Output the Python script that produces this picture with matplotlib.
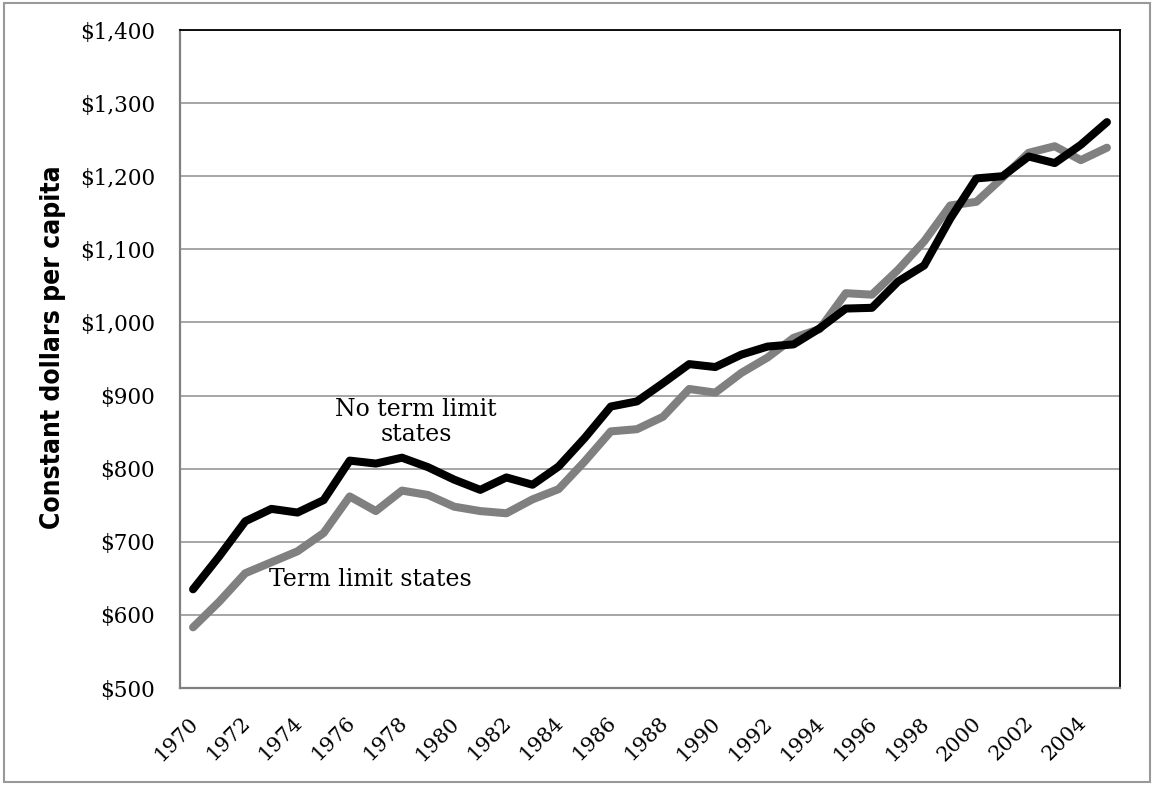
import matplotlib
matplotlib.use("Agg")
import matplotlib.pyplot as plt
from matplotlib.patches import Rectangle
from matplotlib.transforms import ScaledTranslation

# data (constant dollars per capita)
years = list(range(1970, 2006))
no_term_limit = [635, 680, 728, 745, 740, 757, 811, 807, 815, 802, 785, 771,
                 788, 778, 803, 842, 885, 892, 917, 943, 939, 956, 967, 970,
                 992, 1019, 1020, 1056, 1078, 1142, 1197, 1200, 1227, 1218,
                 1243, 1274]
term_limit = [583, 618, 657, 672, 687, 712, 762, 742, 770, 764, 748, 742,
              739, 758, 772, 810, 851, 854, 871, 909, 904, 931, 952, 979,
              991, 1040, 1038, 1072, 1111, 1160, 1165, 1198, 1232, 1241,
              1222, 1239]
y_ticks = list(range(500, 1401, 100))

plt.rcParams['font.family'] = ['DejaVu Serif']

fig = plt.figure(figsize=(11.54, 7.85), dpi=100)
ax = fig.add_axes([180 / 1154, 1 - 688 / 785, 940 / 1154, 658 / 785])

x = list(range(len(years)))
ax.plot(x, term_limit, color='#808080', lw=5.8, solid_capstyle='round',
        solid_joinstyle='round', zorder=3)
ax.plot(x, no_term_limit, color='black', lw=5.8, solid_capstyle='round',
        solid_joinstyle='round', zorder=4)

ax.set_xlim(-0.5, len(years) - 0.5)
ax.set_ylim(500, 1400)
ax.set_yticks(y_ticks)
ax.set_yticklabels(['${:,}'.format(v) for v in y_ticks], fontsize=15.5)
ax.yaxis.grid(True, color='#a6a6a6', lw=1.4)
ax.set_axisbelow(True)

ax.set_xticks(x[::2])
ax.set_xticklabels([str(y) for y in years[::2]], rotation=45, ha='right',
                   rotation_mode='anchor', va='center', fontsize=15)
ax.tick_params(axis='y', length=0, pad=18)
ax.tick_params(axis='x', length=0, pad=23)
off = ScaledTranslation(0.02, 0, fig.dpi_scale_trans)
for lab in ax.get_xticklabels():
    lab.set_transform(lab.get_transform() + off)

for side in ['top', 'right']:
    ax.spines[side].set_color('black')
    ax.spines[side].set_linewidth(1.3)
for side in ['left', 'bottom']:
    ax.spines[side].set_color('#808080')
    ax.spines[side].set_linewidth(1.6)

ax.set_ylabel('Constant dollars per capita', fontsize=19, fontweight='bold',
              family=['DejaVu Sans'], fontstretch='condensed')
ax.yaxis.set_label_coords(-0.121, 0.518)

ax.text(8.55, 864, 'No term limit\nstates', ha='center', va='center',
        fontsize=17, linespacing=1.15)
ax.text(6.8, 648, 'Term limit states', ha='center', va='center', fontsize=17)

# outer chart border
fig.patches.append(Rectangle((4 / 1154, 3 / 785), 1146 / 1154, 779 / 785,
                             transform=fig.transFigure, fill=False,
                             edgecolor='#999999', lw=1.5))

fig.savefig('out.png', dpi=100)
